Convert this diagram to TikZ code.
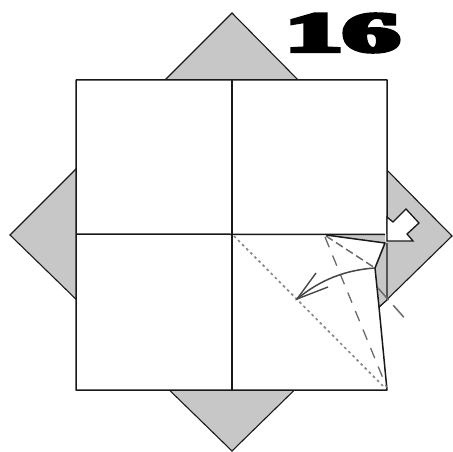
\documentclass[tikz,border=0pt]{standalone}
\usepackage{fontspec}
\newfontfamily\fatnum[FakeBold=7]{Liberation Serif}
\definecolor{flapgray}{gray}{0.78}
\definecolor{inkline}{gray}{0.1}
\definecolor{foldgray}{gray}{0.42}
\tikzset{
  edge/.style={draw=inkline,line width=1.5pt,line join=round},
  thin edge/.style={draw=inkline,line width=1.2pt},
  flap/.style={fill=flapgray,draw=inkline,line width=1.1pt,line join=miter},
  valley/.style={draw=foldgray,line width=1.3pt,dash pattern=on 11pt off 9pt},
  mountain/.style={draw=foldgray,line width=1.5pt,dash pattern=on 8pt off 4pt},
  diagonal/.style={draw=foldgray!80,line width=1.7pt,dash pattern=on 2.6pt off 3.2pt},
}
\begin{document}
\begin{tikzpicture}[x=1pt,y=-1pt]
\useasboundingbox (0,0) rectangle (453,452);
\fill[white] (0,0) rectangle (453,452);
% grey corners behind the sheet
\draw[flap] (232,13) -- (452,236) -- (232,451) -- (10,235) -- cycle;
% white sheet
\fill[white] (76,80) -- (387,80) -- (387,234) -- (385,243) -- (375,268) -- (379,307) -- (387,390) -- (76,390) -- cycle;
% flap being folded
\fill[flapgray] (326,235) -- (385,235) -- (385,243) -- cycle;
\fill[flapgray] (385,243) -- (375,268) -- (379,307) -- (387,300) -- cycle;
% sheet outline
\draw[edge] (387,234) -- (387,80) -- (76,80) -- (76,390) -- (387,390) -- (379,307) -- (375,268) -- (385,243) -- (326,235);
\draw[thin edge] (379,307) -- (387,300) -- (387,243);
\draw[edge] (232,80) -- (232,390);
\draw[edge] (76,234) -- (385,234.5);
% fold lines
\draw[diagonal] (234,236) -- (385,388);
\draw[mountain] (326,236) -- (375,268);
\draw[valley] (325,237) -- (387,388);
\draw[mountain,dash pattern=on 16pt off 7pt] (378,288) -- (408,322);
% white arrow
\draw[fill=white,draw=inkline,line width=1.3pt,line join=miter] (387,217) -- (393,222) -- (406,209) -- (419,223) -- (407,234) -- (413,241) -- (387,241) -- cycle;
% motion arrow
\draw[draw=inkline!80,line width=1.5pt] (375,268) .. controls (345,270) and (320,280) .. (297,299);
\draw[draw=inkline!80,line width=1.4pt] (316,273) -- (297,299) -- (328,287);
% step number
\node[font=\fatnum\bfseries\fontsize{56}{56}\selectfont,inner sep=0pt,anchor=center,xscale=2.05,transform shape] (stepnum) at (342.5,33) {16};
\end{tikzpicture}
\end{document}
